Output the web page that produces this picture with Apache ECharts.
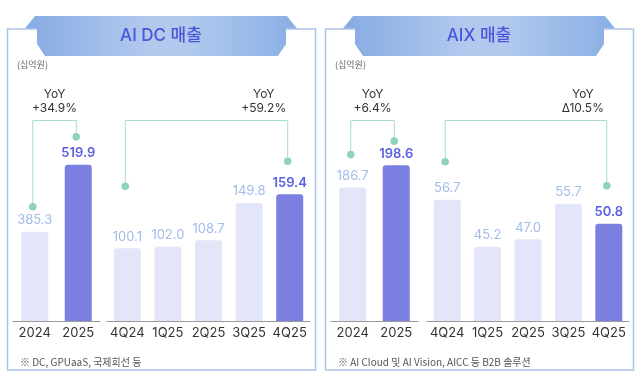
<!DOCTYPE html>
<html>
<head>
<meta charset="utf-8">
<script src="https://cdn.jsdelivr.net/npm/echarts@6/dist/echarts.min.js"></script>
<style>
html, body { margin: 0; background: #fff; }
#chart { width: 638px; height: 377px; }
</style>
</head>
<body>
<div id="chart"></div>
<script>
const yearCats = ['2024', '2025'];
const quarterCats = ['4Q24', '1Q25', '2Q25', '3Q25', '4Q25'];
const dcYear = [385.3, 519.9];
const dcQuarter = [100.1, 102.0, 108.7, 149.8, 159.4];
const aixYear = [186.7, 198.6];
const aixQuarter = [56.7, 45.2, 47.0, 55.7, 50.8];
const yoyLabels = ['+34.9%', '+59.2%', '+6.4%', 'Δ10.5%'];
const titles = ['AI DC 매출', 'AIX 매출'];
const unitLabel = '(십억원)';
const notes = ['※ DC, GPUaaS, 국제회선 등', '※ AI Cloud 및 AI Vision, AICC 등 B2B 솔루션'];

const FONT = 'Inter, "Noto Sans CJK KR", sans-serif';
const KFONT = '"Noto Sans CJK KR", sans-serif';
const LIGHT = '#e3e6f8';
const DARK = '#7a7fe0';

// the bars are not drawn to a common scale in the original, so each block has its own y range
const blocks = [
  { cats: yearCats, values: dcYear, left: 13, width: 87, min: 206, max: 608 },
  { cats: quarterCats, values: dcQuarter, left: 107, width: 203, min: 20, max: 240 },
  { cats: yearCats, values: aixYear, left: 331, width: 87, min: 116, max: 222 },
  { cats: quarterCats, values: aixQuarter, left: 427, width: 202, min: 27, max: 76 }
];

// dot offsets above the bar tops, text placement
const brackets = [
  { offA: 25, offB: 28, mid: true },
  { offA: 62, offB: 33, mid: false },
  { offA: 33, offB: 24, mid: true },
  { offA: 38, offB: 38, mid: false }
];

const barSeries = blocks.map((b, k) => ({
  type: 'bar',
  xAxisIndex: k,
  yAxisIndex: k,
  barWidth: 27,
  itemStyle: { color: LIGHT, borderRadius: [3, 3, 0, 0] },
  label: {
    show: true,
    position: 'top',
    distance: 5,
    fontFamily: FONT,
    fontSize: 13,
    color: '#a2bcea',
    formatter: p => p.value.toFixed(1)
  },
  data: b.values.map((v, i) => i === b.values.length - 1 ? {
    value: v,
    itemStyle: { color: DARK },
    label: { color: '#5a5fe2', fontWeight: 600 }
  } : v)
}));

const bracketSeries = blocks.map((b, k) => ({
  type: 'custom',
  xAxisIndex: k,
  yAxisIndex: k,
  clip: false,
  silent: true,
  z: 5,
  data: [[0, b.values[0]]],
  renderItem: (params, api) => {
    const last = b.values.length - 1;
    const a = api.coord([0, b.values[0]]);
    const c = api.coord([last, b.values[last]]);
    const xa = a[0] - 2, ya = a[1] - brackets[k].offA;
    const xb = c[0] - 2, yb = c[1] - brackets[k].offB;
    const top = params.coordSys.y - 0.5;
    const tx = brackets[k].mid ? (xa + xb) / 2 : xb - 24;
    return {
      type: 'group',
      children: [
        { type: 'polyline', shape: { points: [[xa, ya], [xa, top], [xb, top], [xb, yb]] },
          style: { stroke: '#a9dccb', lineWidth: 1, fill: null } },
        { type: 'circle', shape: { cx: xa, cy: ya, r: 3.8 }, style: { fill: '#8fd4b7' } },
        { type: 'circle', shape: { cx: xb, cy: yb, r: 3.8 }, style: { fill: '#8fd4b7' } },
        { type: 'text', style: {
            text: 'YoY\n' + yoyLabels[k], x: tx, y: top - 5,
            align: 'center', verticalAlign: 'bottom',
            font: '12px ' + FONT, lineHeight: 14, fill: '#333'
        } }
      ]
    };
  }
}));

function banner(dx) {
  const pts = [[25, 28.5], [35, 16], [287, 16], [297, 28.5], [286, 28.5], [286, 44], [278, 56],
    [45, 56], [37, 44], [37, 28.5]];
  return {
    type: 'polygon',
    shape: { points: pts.map(p => [p[0] + dx, p[1]]) },
    style: {
      fill: new echarts.graphic.LinearGradient(0, 0, 1, 0, [
        { offset: 0, color: '#86abe3' },
        { offset: 0.45, color: '#b2c9ee' },
        { offset: 0.6, color: '#b2c9ee' },
        { offset: 1, color: '#89aee4' }
      ])
    }
  };
}

const graphics = [];
[0, 318].forEach((dx, k) => {
  graphics.push({
    type: 'rect',
    shape: { x: 7.5 + dx, y: 29, width: 308, height: 341 },
    style: { fill: '#fff', stroke: '#aac3ea', lineWidth: 1.5 }
  });
  graphics.push(banner(dx));
  graphics.push({
    type: 'text', x: 161 + dx, y: 36,
    style: { text: titles[k], font: '500 17px ' + FONT, fill: '#4b55d9', align: 'center', verticalAlign: 'middle' }
  });
  graphics.push({
    type: 'text', x: 17 + dx, y: 65,
    style: { text: unitLabel, font: '9px ' + KFONT, fill: '#666', verticalAlign: 'middle' }
  });
  graphics.push({
    type: 'text', x: 20 + dx, y: 362,
    style: { text: notes[k], font: '10px ' + KFONT, fill: '#555', verticalAlign: 'middle' }
  });
});

const option = {
  animation: false,
  graphic: graphics,
  grid: blocks.map(b => ({ left: b.left, width: b.width, top: 121, height: 200 })),
  xAxis: blocks.map((b, k) => ({
    type: 'category',
    gridIndex: k,
    data: b.cats,
    axisLine: { lineStyle: { color: '#9a9a9a', width: 1 } },
    axisTick: { show: false },
    axisLabel: { interval: 0, fontFamily: FONT, fontSize: 13, color: '#333', margin: 6 }
  })),
  yAxis: blocks.map((b, k) => ({
    type: 'value',
    gridIndex: k,
    min: b.min,
    max: b.max,
    show: false,
    splitLine: { show: false }
  })),
  series: barSeries.concat(bracketSeries)
};

const chart = echarts.init(document.getElementById('chart'));
chart.setOption(option);
window.addEventListener('resize', () => chart.resize());
</script>
</body>
</html>
